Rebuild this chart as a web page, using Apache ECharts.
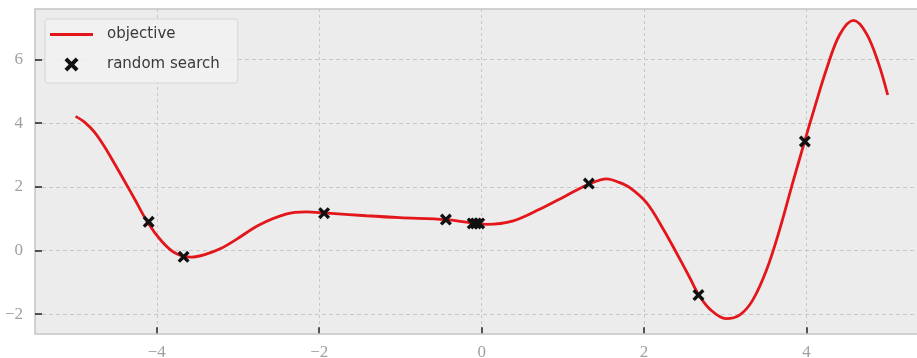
<!DOCTYPE html>
<html>
<head>
<meta charset="utf-8">
<script src="https://cdn.jsdelivr.net/npm/echarts@6/dist/echarts.min.js"></script>
<style>
  html, body { margin: 0; padding: 0; background: #ffffff; }
  #chart { width: 917px; height: 358px; }
</style>
</head>
<body>
<div id="chart"></div>
<script>
// Objective function sampled along x
const curveX = [-5.0, -4.89, -4.77, -4.64, -4.52, -4.40, -4.27, -4.11, -3.94, -3.78, -3.58, -3.41, -3.20, -3.02, -2.74, -2.41, -2.16, -1.94, -1.42, -1.01, -0.44, -0.07, 0.06, 0.39, 0.72, 1.04, 1.32, 1.54, 1.68, 1.82, 2.03, 2.23, 2.40, 2.56, 2.67, 2.81, 3.01, 3.18, 3.34, 3.51, 3.67, 3.83, 3.98, 4.09, 4.25, 4.41, 4.58, 4.74, 4.89, 5.0];
const curveY = [4.21, 4.03, 3.72, 3.24, 2.72, 2.19, 1.60, 0.87, 0.29, -0.07, -0.21, -0.13, 0.08, 0.35, 0.80, 1.14, 1.21, 1.18, 1.09, 1.03, 0.97, 0.85, 0.82, 0.93, 1.30, 1.72, 2.08, 2.25, 2.15, 1.98, 1.50, 0.70, -0.08, -0.84, -1.38, -1.84, -2.14, -2.02, -1.55, -0.60, 0.66, 2.12, 3.45, 4.40, 5.72, 6.78, 7.22, 6.80, 5.85, 4.88];

// Points evaluated by random search
const searchX = [-4.10, -3.67, -1.94, -0.44, -0.11, -0.07, -0.03, 1.32, 2.67, 3.98];
const searchY = [0.90, -0.20, 1.17, 0.97, 0.85, 0.85, 0.85, 2.10, -1.40, 3.42];

// Tick positions
const xTicks = [-4, -2, 0, 2, 4];
const yTicks = [-2, 0, 2, 4, 6];

const crossPath = 'path://M2,0 L5,3 L8,0 L10,2 L7,5 L10,8 L8,10 L5,7 L2,10 L0,8 L3,5 L0,2 Z';
const linePath = 'path://M0,0 L43,0 L43,2.8 L0,2.8 Z';

const fmt = v => (v < 0 ? '\u2212' + Math.abs(v) : String(v));

const tickLabel = {
  fontFamily: 'Liberation Serif',
  fontSize: 17,
  color: '#a0a0a0'
};

const spine = { show: true, onZero: false, lineStyle: { color: '#c4c4c4', width: 1.5 } };

const chart = echarts.init(document.getElementById('chart'), null, { renderer: 'canvas' });

chart.setOption({
  animation: false,
  backgroundColor: '#ffffff',
  grid: {
    left: 35,
    top: 9,
    width: 893.3,
    height: 324.3,
    outerBoundsMode: 'none',
    containLabel: false,
    show: true,
    backgroundColor: '#ececec',
    borderWidth: 0
  },
  legend: {
    left: 45,
    top: 19,
    orient: 'vertical',
    itemWidth: 43,
    itemHeight: 14,
    itemGap: 15,
    padding: [8, 18, 11, 5],
    backgroundColor: 'rgba(242,242,242,0.85)',
    borderColor: '#d6d6d6',
    borderWidth: 1,
    borderRadius: 3,
    textStyle: {
      fontFamily: 'DejaVu Sans',
      fontSize: 15,
      color: '#3a3a3a',
      lineHeight: 14,
      padding: [0, 0, 0, 9]
    },
    data: [
      { name: 'objective', icon: linePath },
      { name: 'random search', icon: crossPath }
    ]
  },
  xAxis: [
    {
      type: 'value',
      min: -5.5,
      max: 5.5,
      axisLine: spine,
      axisTick: {
        show: true,
        inside: true,
        length: 6,
        customValues: xTicks,
        lineStyle: { color: '#222222', width: 1.5 }
      },
      axisLabel: {
        customValues: xTicks,
        formatter: fmt,
        margin: 11,
        ...tickLabel
      },
      splitLine: {
        show: true,
        lineStyle: { color: '#c8c8c8', width: 1, type: [3, 3] }
      }
    },
    {
      // top spine only
      type: 'value',
      position: 'top',
      min: -5.5,
      max: 5.5,
      axisLine: spine,
      axisTick: { show: false },
      axisLabel: { show: false },
      splitLine: { show: false }
    }
  ],
  yAxis: {
    type: 'value',
    min: -2.6,
    max: 7.58,
    axisLine: spine,
    axisTick: {
      show: true,
      inside: true,
      length: 7,
      customValues: yTicks,
      lineStyle: { color: '#222222', width: 1.5 }
    },
    axisLabel: {
      customValues: yTicks,
      formatter: fmt,
      margin: 12,
      ...tickLabel
    },
    splitLine: {
      show: true,
      lineStyle: { color: '#c8c8c8', width: 1, type: [4, 3] }
    }
  },
  series: [
    {
      name: 'objective',
      type: 'line',
      data: curveX.map((x, i) => [x, curveY[i]]),
      smooth: 0.35,
      symbol: 'none',
      lineStyle: { color: '#e3161b', width: 2.8 },
      itemStyle: { color: '#e3161b' },
      z: 2
    },
    {
      name: 'random search',
      type: 'scatter',
      data: searchX.map((x, i) => [x, searchY[i]]),
      symbol: crossPath,
      symbolSize: 12,
      itemStyle: { color: '#111111', opacity: 1 },
      z: 3
    }
  ]
});
</script>
</body>
</html>
